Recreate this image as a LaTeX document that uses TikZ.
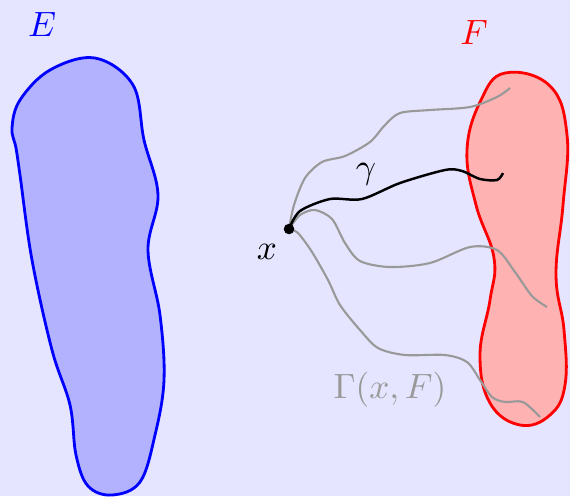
\documentclass[tikz,border=0pt]{standalone}
\usetikzlibrary{positioning}
\begin{document}
\begin{tikzpicture}[x=0.01cm, y=-0.01cm,
    blob/.style={line width=0.8pt},
    curvegray/.style={gray!80, line width=0.6pt},
    curveblack/.style={black, line width=0.7pt}
  ]
  % background
  \fill[blue!10] (0,0) rectangle (570,496);
  \useasboundingbox (0,0) rectangle (570,496);

  % set E
  \draw[blob, draw=blue, fill=blue!30] plot[smooth cycle, tension=0.6] coordinates {
    (95,58) (133,85) (144,140) (158,195) (148,250) (160,315) (164,380)
    (155,435) (140,482) (112,495) (88,486) (76,455) (70,405) (52,350)
    (32,260) (20,175) (16,148) (12,128) (20,100) (50,70)};

  % set F
  \draw[blob, draw=red, fill=red!30] plot[smooth cycle, tension=0.7] coordinates {
    (505,73) (550,86) (567,135) (563,205) (556,275) (564,330) (565,385)
    (550,415) (520,425) (490,403) (480,355) (490,300) (494,258) (476,205)
    (467,150) (481,100)};

  % point x
  \coordinate (x) at (289,229);

  % paths from x to F
  \draw[curvegray] (x) plot[smooth] coordinates {
    (289,229) (294,205) (305,178) (322,162) (345,156) (370,142) (385,125)
    (400,113) (430,110) (470,107) (497,97) (510,88)};
  \draw[curvegray] (x) plot[smooth] coordinates {
    (289,229) (300,215) (315,210) (332,219) (345,243) (360,261) (390,267)
    (430,263) (470,247) (497,250) (515,272) (532,296) (547,307)};
  \draw[curvegray] (x) plot[smooth] coordinates {
    (289,229) (298,233) (312,252) (328,280) (340,305) (360,330) (378,348)
    (405,355) (445,355) (467,362) (480,380) (492,397) (505,402) (523,402)
    (540,417)};
  \draw[curveblack] (x) plot[smooth] coordinates {
    (289,229) (300,211) (330,199) (362,199) (400,183) (445,170) (462,171)
    (480,179) (497,180) (503,173)};

  \fill (x) circle[radius=1.5pt];

  % labels
  \node[blue] (labE) at (42,24) {$E$};
  \node[red] (labF) at (474,32) {$F$};
  \node (labx) at (267,252) {$x$};
  \node (labgamma) at (366,174) {$\gamma$};
  \node[gray!80] (labGamma) at (390,390) {$\Gamma(x,F)$};
\end{tikzpicture}
\end{document}
